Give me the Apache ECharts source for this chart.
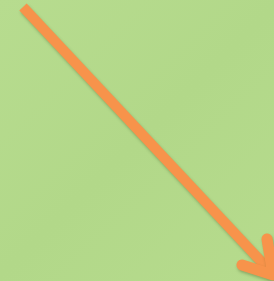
<!DOCTYPE html>
<html>
<head>
<meta charset="utf-8">
<script src="https://cdn.jsdelivr.net/npm/echarts@6/dist/echarts.min.js"></script>
<style>
  html, body { margin: 0; padding: 0; }
  #chart { width: 274px; height: 281px; }
</style>
</head>
<body>
<div id="chart"></div>
<script>
// arrow shaft and head, in picture units (x right, y down)
var shaft = [[23, 7], [272, 273]];
var head = [[242, 265], [273, 275], [267, 239]];

var chart = echarts.init(document.getElementById("chart"));

var arrowStyle = {
  color: "#f7934b",
  width: 10,
  cap: "round",
  join: "round",
  shadowColor: "rgba(60,80,30,0.35)",
  shadowBlur: 3,
  shadowOffsetX: 1,
  shadowOffsetY: 2,
};

chart.setOption({
  backgroundColor: {
    type: "linear",
    x: 0, y: 0, x2: 1, y2: 1,
    colorStops: [
      { offset: 0, color: "#b7dc8f" },
      { offset: 0.5, color: "#b2d889" },
      { offset: 1, color: "#b6db8d" },
    ],
  },
  animation: false,
  grid: { left: 0, right: 0, top: 0, bottom: 0 },
  xAxis: { type: "value", min: 0, max: 274, show: false },
  yAxis: { type: "value", min: 0, max: 281, inverse: true, show: false },
  series: [
    {
      type: "line",
      data: shaft,
      symbol: "none",
      lineStyle: Object.assign({}, arrowStyle, { cap: "butt" }),
    },
    {
      type: "line",
      data: head,
      symbol: "none",
      lineStyle: Object.assign({}, arrowStyle, { width: 11 }),
    },
  ],
});
</script>
</body>
</html>
